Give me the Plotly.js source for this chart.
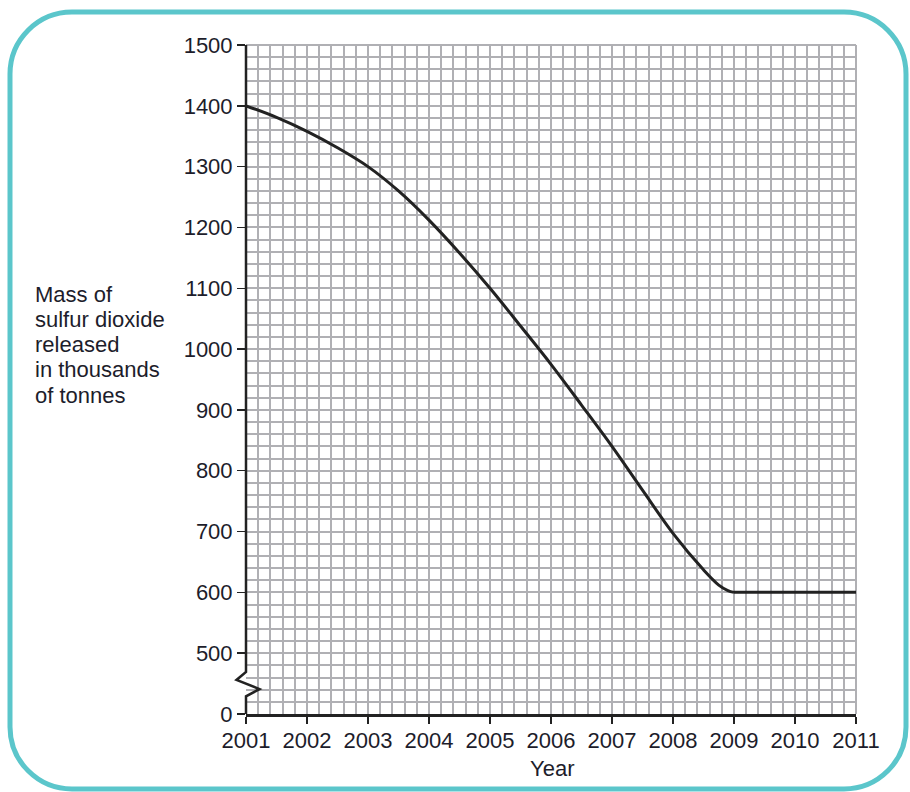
<!DOCTYPE html>
<html>
<head>
<meta charset="utf-8">
<script src="https://cdn.plot.ly/plotly-3.0.1.min.js"></script>
<style>
  html, body { margin: 0; padding: 0; background: #ffffff; }
  #chart { width: 910px; height: 792px; }
</style>
</head>
<body>
<div id="chart"></div>
<script>
// ---- data ----
const years = [2001, 2001.5, 2002, 2002.5, 2003, 2003.5, 2004, 2004.5, 2005, 2005.5,
               2006, 2006.5, 2007, 2007.5, 2008, 2008.5, 2008.75, 2008.9, 2009, 2010, 2011];
const mass  = [1400, 1381, 1358, 1331, 1300, 1260, 1212, 1158, 1100, 1038,
               975, 908, 840, 768, 697, 637, 612, 603, 600, 600, 600];

const xTickVals = [2001, 2002, 2003, 2004, 2005, 2006, 2007, 2008, 2009, 2010, 2011];
const xTickText = ["2001", "2002", "2003", "2004", "2005", "2006", "2007", "2008", "2009", "2010", "2011"];
// axis is broken: the bottom position (400 on the scale) is labelled 0
const yTickVals = [400, 500, 600, 700, 800, 900, 1000, 1100, 1200, 1300, 1400, 1500];
const yTickText = ["0", "500", "600", "700", "800", "900", "1000", "1100", "1200", "1300", "1400", "1500"];

const yLabelLines = ["Mass of", "sulfur dioxide", "released", "in thousands", "of tonnes"];
const xLabel = "Year";

// ---- layout geometry (pixels) ----
const W = 910, H = 792;
const L = 246, R = 856, T = 45, B = 714;
const Y0 = 400, Y1 = 1500;
const px = x => (x - L) / (R - L);
const py = y => (B - y) / (B - T);
const pv = v => (v - Y0) / (Y1 - Y0);

const FONT = "Liberation Sans, Arial, sans-serif";
const TXT = "#1d1d2b";
const GRID = "#b0b0b4";
const GW = 2;

// rounded frame path in paper coords
function roundedRect(x0, y0, x1, y1, r) {
  const k = 0.5523 * r;
  const P = (x, y) => px(x).toFixed(5) + "," + py(y).toFixed(5);
  return "M" + P(x0 + r, y0) +
    " L" + P(x1 - r, y0) +
    " C" + P(x1 - r + k, y0) + " " + P(x1, y0 + r - k) + " " + P(x1, y0 + r) +
    " L" + P(x1, y1 - r) +
    " C" + P(x1, y1 - r + k) + " " + P(x1 - r + k, y1) + " " + P(x1 - r, y1) +
    " L" + P(x0 + r, y1) +
    " C" + P(x0 + r - k, y1) + " " + P(x0, y1 - r + k) + " " + P(x0, y1 - r) +
    " L" + P(x0, y0 + r) +
    " C" + P(x0, y0 + r - k) + " " + P(x0 + r - k, y0) + " " + P(x0 + r, y0) + " Z";
}

// y axis line with the break zigzag (paper coords)
function brokenAxis() {
  const Q = (dx, v) => px(L + dx).toFixed(5) + "," + pv(v).toFixed(5);
  return "M" + Q(0, 1500) + " L" + Q(0, 469) + " L" + Q(-9.5, 456) +
         " L" + Q(13.5, 441) + " L" + Q(0, 429) + " L" + Q(0, 400);
}

const iFlat = years.indexOf(2009);
const lineStyle = { color: "#222222", width: 3 };
const traces = [
  {
    x: years.slice(0, iFlat + 1), y: mass.slice(0, iFlat + 1),
    type: "scatter", mode: "lines",
    line: Object.assign({ shape: "spline", smoothing: 1 }, lineStyle),
    hoverinfo: "skip", showlegend: false
  },
  {
    x: years.slice(iFlat), y: mass.slice(iFlat),
    type: "scatter", mode: "lines",
    line: Object.assign({ shape: "linear" }, lineStyle),
    hoverinfo: "skip", showlegend: false
  }
];

const annotations = yLabelLines.map((t, i) => ({
  text: t,
  xref: "paper", yref: "paper",
  x: px(33), y: py(294 + i * 25.3),
  xanchor: "left", yanchor: "middle",
  showarrow: false,
  align: "left",
  font: { family: FONT, size: 22, color: TXT }
}));
annotations.push({
  text: xLabel,
  xref: "paper", yref: "paper",
  x: px(552), y: py(768),
  xanchor: "center", yanchor: "middle",
  showarrow: false,
  font: { family: FONT, size: 22, color: TXT }
});

const layout = {
  width: W, height: H,
  margin: { l: L, r: W - R, t: T, b: H - B, pad: 0 },
  paper_bgcolor: "#ffffff",
  plot_bgcolor: "#ffffff",
  showlegend: false,
  xaxis: {
    range: [2001, 2011],
    tickmode: "array", tickvals: xTickVals, ticktext: xTickText,
    ticks: "outside", ticklen: 7, tickwidth: 1.5, tickcolor: "#222",
    tickfont: { family: FONT, size: 22, color: TXT },
    ticklabelstandoff: -2,
    showgrid: true, gridcolor: GRID, gridwidth: GW,
    minor: { tickmode: "linear", tick0: 2001, dtick: 0.2, showgrid: true, gridcolor: GRID, gridwidth: GW, ticks: "" },
    showline: true, linecolor: "#222", linewidth: 3,
    zeroline: false, fixedrange: true
  },
  yaxis: {
    range: [Y0, Y1],
    tickmode: "array", tickvals: yTickVals, ticktext: yTickText,
    ticks: "outside", ticklen: 8, tickwidth: 1.5, tickcolor: "#222",
    tickfont: { family: FONT, size: 22, color: TXT },
    ticklabelstandoff: 0,
    showgrid: true, gridcolor: GRID, gridwidth: GW,
    minor: { tickmode: "linear", tick0: Y0, dtick: 20, showgrid: true, gridcolor: GRID, gridwidth: GW, ticks: "" },
    showline: false,
    zeroline: false, fixedrange: true
  },
  annotations: annotations,
  shapes: [
    // top and right borders of the grid
    { type: "line", xref: "paper", yref: "paper", x0: 0, x1: 1, y0: 1, y1: 1, line: { color: GRID, width: GW }, layer: "below" },
    { type: "line", xref: "paper", yref: "paper", x0: 1, x1: 1, y0: 0, y1: 1, line: { color: GRID, width: GW }, layer: "below" },
    { type: "path", xref: "paper", yref: "paper", path: brokenAxis(), line: { color: "#222", width: 2.5 } },
    { type: "path", xref: "paper", yref: "paper", path: roundedRect(10, 12, 906, 789, 62), line: { color: "#5bc6cb", width: 5 } }
  ]
};

Plotly.newPlot("chart", traces, layout, { displayModeBar: false, staticPlot: true });
</script>
</body>
</html>
